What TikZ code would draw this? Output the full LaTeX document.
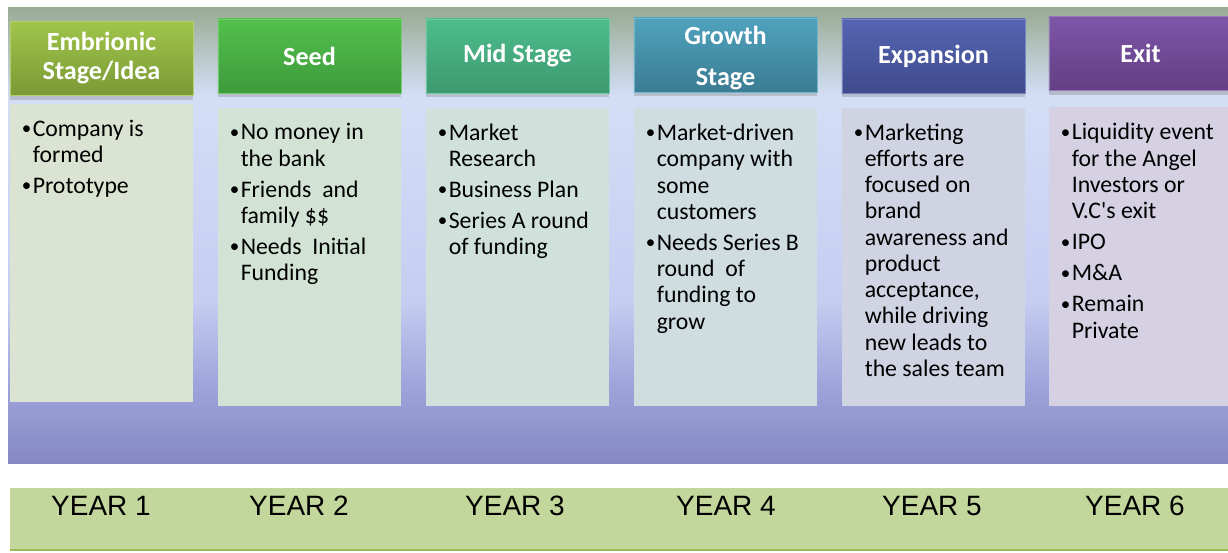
\documentclass[tikz,border=0pt]{standalone}
\usepackage{fontspec}
\setmainfont{Carlito}
\newfontfamily\yearfont{Liberation Sans}
\usepackage{tikz}
\usetikzlibrary{shapes}
\usetikzlibrary{positioning}
\usetikzlibrary{shadows}

\definecolor{bgtop}{HTML}{98AB93}
\definecolor{bglight}{HTML}{D3DEF6}
\definecolor{bgmid}{HTML}{C6CEF1}
\definecolor{bglow}{HTML}{A0A7DC}
\definecolor{bgbot}{HTML}{8588C4}
\definecolor{yearbar}{HTML}{C3D69B}
\definecolor{yearline}{HTML}{9BBB59}
% en-tetes (haut / bas) et corps
\definecolor{ideaT}{HTML}{9FC54A}\definecolor{ideaB}{HTML}{7B9936}\definecolor{ideaF}{HTML}{DBE4D2}
\definecolor{seedT}{HTML}{52C04C}\definecolor{seedB}{HTML}{3D9B3C}\definecolor{seedF}{HTML}{D2E3D6}
\definecolor{midT}{HTML}{4DBD8C}\definecolor{midB}{HTML}{3D9870}\definecolor{midF}{HTML}{D0E1DC}
\definecolor{growT}{HTML}{4FA2BD}\definecolor{growB}{HTML}{3B7C93}\definecolor{growF}{HTML}{CFDDE1}
\definecolor{expT}{HTML}{5565B2}\definecolor{expB}{HTML}{3F4B8C}\definecolor{expF}{HTML}{D0D3E2}
\definecolor{exitT}{HTML}{7D56A8}\definecolor{exitB}{HTML}{633F84}\definecolor{exitF}{HTML}{D5D0E2}

\newcommand{\itm}{\makebox[0.27cm][l]{\raisebox{0.15ex}{\scalebox{0.8}{\textbullet}}}}
\newcommand{\cnt}{\hspace*{0.27cm}}

\tikzset{
	stg_h/.style = {rectangle, minimum width=4.575cm, minimum height=1.85cm,
		inner sep=0pt, align=center, text=white,
		font=\fontsize{18.6}{20.6}\selectfont\bfseries,
		top color=#1T, bottom color=#1B, draw=#1T!80!white,
		drop shadow={opacity=0.35, shadow xshift=0pt, shadow yshift=-3pt}},% en-tete d'une etape
	stg_b/.style = {rectangle, minimum width=4.575cm, minimum height=7.45cm,
		inner sep=0pt, fill=#1F},% corps d'une etape
	stg_t/.style = {anchor=north west, inner sep=0pt, align=left,
		font=\fontsize{16.9}{18.66}\selectfont},% texte du corps
	yr/.style = {anchor=base, font=\yearfont\fontsize{19.9}{24}\selectfont}% annee
}

\begin{document}
\begin{tikzpicture}[x=0.025cm, y=-0.025cm]
	\useasboundingbox (0,0) rectangle (1228,552);
	% fond en degrade
	\shade[top color=bgtop, bottom color=bglight] (8,7) rectangle (1228,96);
	\shade[top color=bglight, bottom color=bgmid] (8,95) rectangle (1228,300);
	\shade[top color=bgmid, bottom color=bglow] (8,299) rectangle (1228,380);
	\shade[top color=bglow, bottom color=bgbot] (8,379) rectangle (1228,463);
	% bande des annees
	\fill[yearbar] (10,488) rectangle (1228,550);
	\draw[yearline, line width=1.2pt] (10,550) -- (1228,550);

	% en-tetes
	\node[stg_h=idea] (h1) at (101.5,58.5) {Embrionic\\Stage/Idea};
	\node[stg_h=seed] (h2) at (309.5,56) {Seed};
	\node[stg_h=mid] (h3) at (517.5,56) {Mid Stage};
	\node[stg_h=grow, text depth=0pt] (h4) at (725.5,55) {};
	\node[align=center, inner sep=0pt, text=white, font=\fontsize{18.6}{20.6}\selectfont\bfseries]
		(h4t) at ([yshift=-0.08cm]h4.center) {Growth\\[0.3cm]Stage};
	\node[stg_h=exp] (h5) at (933.5,56) {Expansion};
	\node[stg_h=exit] (h6) at (1140.5,53.5) {Exit};

	% corps
	\node[stg_b=idea, below=0.19cm of h1] (b1) {};
	\node[stg_b=seed, below=0.35cm of h2] (b2) {};
	\node[stg_b=mid, below=0.35cm of h3] (b3) {};
	\node[stg_b=grow, below=0.39cm of h4] (b4) {};
	\node[stg_b=exp, below=0.35cm of h5] (b5) {};
	\node[stg_b=exit, below=0.41cm of h6] (b6) {};

	% textes
	\node[stg_t] (t1) at ([xshift=0.3cm, yshift=-0.4cm]b1.north west)
		{\itm Company is\\ \cnt formed\\[0.12cm] \itm Prototype};
	\node[stg_t] (t2) at ([xshift=0.3cm, yshift=-0.4cm]b2.north west)
		{\itm No money in\\ \cnt the bank\\[0.12cm] \itm Friends\ \ and\\ \cnt family \$\$\\[0.12cm]
		\itm Needs\ \ Initial\\ \cnt Funding};
	\node[stg_t] (t3) at ([xshift=0.3cm, yshift=-0.4cm]b3.north west)
		{\itm Market\\ \cnt Research\\[0.12cm] \itm Business Plan\\[0.12cm] \itm Series A round\\ \cnt of funding};
	\node[stg_t] (t4) at ([xshift=0.3cm, yshift=-0.4cm]b4.north west)
		{\itm Market-driven\\ \cnt company with\\ \cnt some\\ \cnt customers\\[0.12cm]
		\itm Needs Series B\\ \cnt round\ \ of\\ \cnt funding to\\ \cnt grow};
	\node[stg_t] (t5) at ([xshift=0.3cm, yshift=-0.4cm]b5.north west)
		{\itm Marketing\\ \cnt efforts are\\ \cnt focused on\\ \cnt brand\\ \cnt awareness and\\
		\cnt product\\ \cnt acceptance,\\ \cnt while driving\\ \cnt new leads to\\ \cnt the sales team};
	\node[stg_t] (t6) at ([xshift=0.3cm, yshift=-0.4cm]b6.north west)
		{\itm Liquidity event\\ \cnt for the Angel\\ \cnt Investors or\\ \cnt V.C\textquotesingle s exit\\[0.12cm]
		\itm IPO\\[0.12cm] \itm M\&A\\[0.12cm] \itm Remain\\ \cnt Private};

	% annees
	\foreach \n/\x in {1/101, 2/299, 3/515, 4/726, 5/932, 6/1135}
		\node[yr] (y\n) at (\x,515) {YEAR \n};
\end{tikzpicture}
\end{document}
